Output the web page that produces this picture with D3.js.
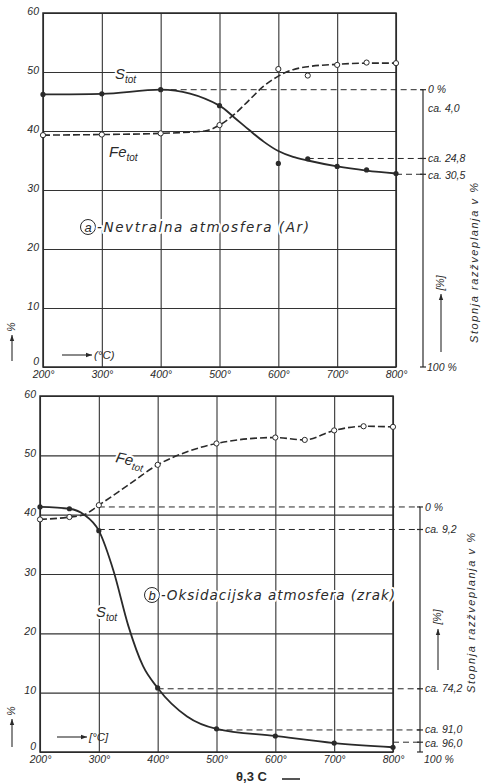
<!DOCTYPE html>
<html>
<head>
<meta charset="utf-8">
<script src="https://cdn.jsdelivr.net/npm/d3@7.9.0/dist/d3.min.js"></script>
<style>
  body { margin: 0; background: #fff; }
  svg { display: block; font-family: "Liberation Sans", "DejaVu Sans", sans-serif; font-style: italic; }
</style>
</head>
<body>
<svg id="chart" width="484" height="784"></svg>
<script>
const temps = [200, 300, 400, 500, 600, 700, 800];
const pctTicks = [0, 10, 20, 30, 40, 50, 60];

// (a) neutral atmosphere (Ar)
const aPointT = [200, 300, 400, 500, 600, 650, 700, 750, 800];
const aSPoints = [46.2, 46.3, 47.0, 44.3, 34.5, 35.3, 34.0, 33.4, 32.8];
const aFePoints = [39.3, 39.4, 39.6, 41.0, 50.5, 49.4, 51.2, 51.6, 51.5];
const aSCurveT = [200, 300, 400, 500, 525, 550, 575, 600, 625, 650, 700, 750, 800];
const aSCurve = [46.2, 46.3, 47.0, 44.3, 42.3, 40.2, 38.2, 36.6, 35.6, 35.0, 34.0, 33.3, 32.8];
const aFeCurveT = [200, 300, 400, 475, 500, 525, 550, 575, 600, 625, 650, 700, 750, 800];
const aFeCurve = [39.3, 39.4, 39.6, 40.0, 41.0, 42.8, 45.2, 47.6, 49.3, 50.4, 50.9, 51.3, 51.5, 51.5];
const aSStart = 47.0;
const aRefPct = [0, 24.8, 30.5];
const aRefFrom = [400, 650, 800];
const aRefLabels = ['0 %', 'ca. 24,8', 'ca. 30,5'];

// (b) oxidising atmosphere (air)
const bPointT = [200, 250, 300, 400, 500, 600, 700, 800];
const bSPoints = [41.3, 41.0, 37.3, 10.8, 3.9, 2.7, 1.5, 0.8];
const bFePointT = [200, 250, 300, 400, 500, 600, 650, 700, 750, 800];
const bFePoints = [39.2, 39.6, 41.6, 48.4, 52.0, 53.0, 52.6, 54.2, 54.9, 54.8];
const bSCurveT = [200, 250, 275, 300, 325, 350, 375, 400, 450, 500, 600, 700, 800];
const bSCurve = [41.3, 41.0, 40.0, 37.3, 30.5, 21.3, 14.5, 10.8, 6.0, 3.9, 2.7, 1.5, 0.8];
const bFeCurveT = [200, 250, 275, 300, 350, 400, 450, 500, 600, 650, 700, 750, 800];
const bFeCurve = [39.2, 39.6, 40.0, 41.6, 45.0, 48.4, 50.6, 52.0, 53.0, 52.6, 54.2, 54.9, 54.8];
const bSStart = 41.3;
const bRefPct = [0, 9.2, 74.2, 91.0, 96.0];
const bRefFrom = [300, 300, 400, 500, 800];
const bRefLabels = ['0 %', 'ca. 9,2', 'ca. 74,2', 'ca. 91,0', 'ca. 96,0'];

const ink = '#2a2a2a';
const svg = d3.select('#chart');

function halo(sel) {
  return sel.attr('stroke', '#fff').attr('stroke-width', 4)
    .attr('paint-order', 'stroke').attr('stroke-linejoin', 'round');
}

function arrow(g, x1, y1, x2, y2) {
  g.append('line').attr('x1', x1).attr('y1', y1).attr('x2', x2).attr('y2', y2)
    .attr('stroke', ink).attr('stroke-width', 1.1);
  const a = Math.atan2(y2 - y1, x2 - x1);
  const p = [[x2, y2],
    [x2 - 6 * Math.cos(a) + 2.2 * Math.sin(a), y2 - 6 * Math.sin(a) - 2.2 * Math.cos(a)],
    [x2 - 6 * Math.cos(a) - 2.2 * Math.sin(a), y2 - 6 * Math.sin(a) + 2.2 * Math.cos(a)]];
  g.append('path').attr('d', d3.line()(p) + 'Z').attr('fill', ink);
}

function drawPanel(p) {
  const x = d3.scaleLinear().domain([200, 800]).range([p.left, p.right]);
  const y = d3.scaleLinear().domain([0, 60]).range([p.bottom, p.top]);
  const r = d3.scaleLinear().domain([0, 100]).range([y(p.sStart), y(0)]);
  const g = svg.append('g');

  // grid + tick labels
  const gx = g.append('g').attr('transform', `translate(0,${p.bottom})`)
    .call(d3.axisBottom(x).tickValues(temps).tickSize(-(p.bottom - p.top)).tickPadding(4)
      .tickFormat(d => d + '°'));
  const gy = g.append('g').attr('transform', `translate(${p.left},0)`)
    .call(d3.axisLeft(y).tickValues(pctTicks).tickSize(-(p.right - p.left)).tickPadding(4));
  [gx, gy].forEach(a => {
    a.select('.domain').remove();
    a.selectAll('line').attr('stroke', '#333').attr('stroke-width', 1.1);
    a.selectAll('text').attr('fill', ink).attr('font-size', 10.5)
      .attr('font-family', '"Liberation Sans", sans-serif').attr('font-style', 'italic');
  });
  gy.selectAll('text').attr('dy', d => d === 0 ? '-0.25em' : '0.1em');
  g.append('rect').attr('x', p.left).attr('y', p.top)
    .attr('width', p.right - p.left).attr('height', p.bottom - p.top)
    .attr('fill', 'none').attr('stroke', ink).attr('stroke-width', 1.5);

  // right-hand desulphurisation scale
  const sx = p.right + 27;
  p.refPct.forEach((v, i) => {
    g.append('line').attr('x1', x(p.refFrom[i])).attr('x2', sx)
      .attr('y1', r(v)).attr('y2', r(v))
      .attr('stroke', ink).attr('stroke-width', 1).attr('stroke-dasharray', '6,4');
  });
  g.append('line').attr('x1', sx).attr('x2', sx).attr('y1', r(0)).attr('y2', r(100))
    .attr('stroke', ink).attr('stroke-width', 1.2);
  p.refPct.concat([100]).forEach(v => {
    g.append('line').attr('x1', sx - 3).attr('x2', sx + 3).attr('y1', r(v)).attr('y2', r(v))
      .attr('stroke', ink).attr('stroke-width', 1.2);
  });
  p.refPct.forEach((v, i) => {
    g.append('text').attr('x', sx + 5).attr('y', r(v) + p.labelShift[i]).attr('dy', '0.35em')
      .attr('font-size', 10.5).attr('fill', ink).text(p.refLabels[i]);
  });
  g.append('text').attr('x', sx + 4).attr('y', r(100) + p.hundredShift).attr('dy', '0.35em')
    .attr('font-size', 10.5).attr('fill', ink).text('100 %');

  // curves
  const line = d3.line().curve(d3.curveMonotoneX).x(d => x(d[0])).y(d => y(d[1]));
  g.append('path').datum(d3.zip(p.feCurveT, p.feCurve)).attr('d', line)
    .attr('fill', 'none').attr('stroke', ink).attr('stroke-width', 1.6).attr('stroke-dasharray', '7,3');
  g.append('path').datum(d3.zip(p.sCurveT, p.sCurve)).attr('d', line)
    .attr('fill', 'none').attr('stroke', ink).attr('stroke-width', 1.8);

  g.selectAll('circle.fe').data(d3.zip(p.fePointT, p.fePoints)).join('circle')
    .attr('class', 'fe').attr('cx', d => x(d[0])).attr('cy', d => y(d[1])).attr('r', 2.6)
    .attr('fill', '#fff').attr('stroke', ink).attr('stroke-width', 1);
  g.selectAll('circle.s').data(d3.zip(p.sPointT, p.sPoints)).join('circle')
    .attr('class', 's').attr('cx', d => x(d[0])).attr('cy', d => y(d[1])).attr('r', 2.6)
    .attr('fill', ink);

  return { g, x, y, sx };
}

function seriesLabel(g, name, xx, yy, rot) {
  const t = g.append('text').attr('transform', `translate(${xx},${yy}) rotate(${rot || 0})`)
    .attr('font-size', 15).attr('fill', ink);
  halo(t);
  t.append('tspan').text(name);
  t.append('tspan').attr('font-size', 10).attr('dy', 4).text('tot');
}

function atmosphereLabel(g, letter, cx, cy, text, len) {
  g.append('circle').attr('cx', cx).attr('cy', cy).attr('r', 7.5)
    .attr('fill', '#fff').attr('stroke', ink).attr('stroke-width', 1);
  g.append('text').attr('x', cx).attr('y', cy).attr('dy', '0.35em').attr('text-anchor', 'middle')
    .attr('font-size', 13).attr('fill', ink).text(letter);
  halo(g.append('text').attr('x', cx + 9).attr('y', cy).attr('dy', '0.35em')
    .attr('font-size', 13.5).attr('fill', ink)
    .attr('font-family', '"DejaVu Sans", sans-serif')
    .attr('textLength', len).attr('lengthAdjust', 'spacing').text(text));
}

function sideLabels(g, sx, cy, unitPos, arrowSpan, left, yTop, yArrow, unit, unitY) {
  // degree-of-desulphurisation caption
  g.append('text').attr('transform', `translate(${sx + 55},${cy}) rotate(-90)`)
    .attr('text-anchor', 'middle').attr('font-size', 11).attr('fill', ink)
    .attr('textLength', 160).attr('lengthAdjust', 'spacing').text('Stopnja razžveplanja v %');
  // [%] with arrow
  g.append('text').attr('transform', `translate(${sx + 21},${unitPos}) rotate(-90)`)
    .attr('text-anchor', 'middle').attr('font-size', 10.5).attr('fill', ink).text('[%]');
  arrow(g, sx + 18, arrowSpan[1], sx + 18, arrowSpan[0]);
  // left % axis caption
  g.append('text').attr('transform', `translate(${left},${yTop}) rotate(-90)`)
    .attr('text-anchor', 'middle').attr('font-size', 10.5).attr('fill', ink).text('%');
  arrow(g, left - 3, yArrow, left - 3, yTop + 8);
  // °C caption
  arrow(g, unit[0], unitY, unit[0] + 30, unitY);
  g.append('text').attr('x', unit[0] + 32).attr('y', unitY).attr('dy', '0.35em')
    .attr('font-size', 11.5).attr('fill', ink).text(unit[1]);
}

const A = drawPanel({
  left: 43, right: 396, top: 13, bottom: 367,
  sPointT: aPointT, sPoints: aSPoints, fePointT: aPointT, fePoints: aFePoints,
  sCurveT: aSCurveT, sCurve: aSCurve, feCurveT: aFeCurveT, feCurve: aFeCurve,
  sStart: aSStart, refPct: aRefPct, refFrom: aRefFrom, refLabels: aRefLabels,
  labelShift: [0, 0, 1], hundredShift: 0
});
A.g.append('text').attr('x', A.sx + 5).attr('y', 108).attr('dy', '0.35em')
  .attr('font-size', 10.5).attr('fill', ink).text('ca. 4,0');
seriesLabel(A.g, 'S', 115, 79);
seriesLabel(A.g, 'Fe', 109, 157);
atmosphereLabel(A.g, 'a', 88, 227, '-Nevtralna atmosfera (Ar)', 212);
sideLabels(A.g, A.sx, 263, 283, [294, 352], 15, 327, 361, [62, '(°C)'], 355);

const B = drawPanel({
  left: 40, right: 393, top: 396, bottom: 752,
  sPointT: bPointT, sPoints: bSPoints, fePointT: bFePointT, fePoints: bFePoints,
  sCurveT: bSCurveT, sCurve: bSCurve, feCurveT: bFeCurveT, feCurve: bFeCurve,
  sStart: bSStart, refPct: bRefPct, refFrom: bRefFrom, refLabels: bRefLabels,
  labelShift: [0, 0, 0, -1, 1], hundredShift: 7
});
seriesLabel(B.g, 'Fe', 115, 462, 12);
seriesLabel(B.g, 'S', 96, 617);
atmosphereLabel(B.g, 'b', 152, 595, '-Oksidacijska atmosfera (zrak)', 234);
sideLabels(B.g, B.sx, 613, 617, [629, 670], 15, 711, 747, [57, '[°C]'], 737);

// handwritten note under the bottom axis
svg.append('text').attr('x', 236).attr('y', 781).attr('font-size', 13).attr('font-weight', 'bold')
  .attr('font-style', 'normal').attr('fill', ink).text('θ,3 C');
svg.append('line').attr('x1', 282).attr('x2', 300).attr('y1', 779).attr('y2', 779)
  .attr('stroke', ink).attr('stroke-width', 1.6);
</script>
</body>
</html>
